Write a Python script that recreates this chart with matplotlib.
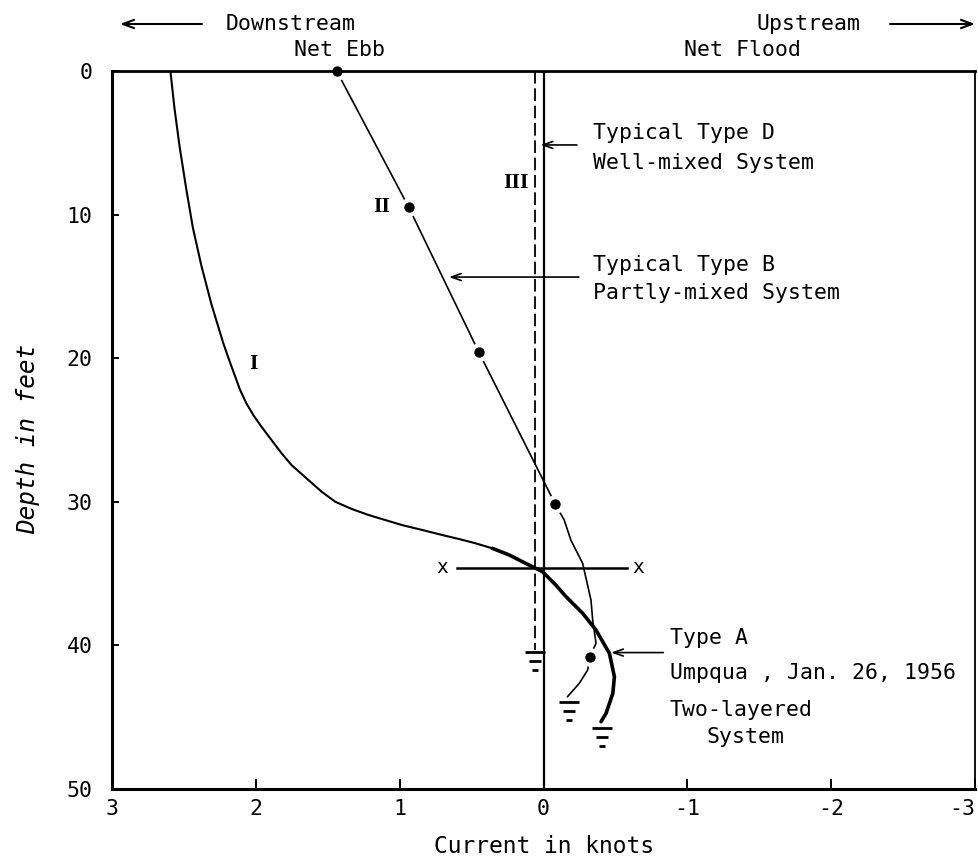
import matplotlib
matplotlib.use("Agg")
import matplotlib.pyplot as plt
from matplotlib.path import Path

plt.rcParams['font.family'] = ['DejaVu Sans Mono', 'DejaVu Sans']
plt.rcParams['axes.unicode_minus'] = False

# ---------------- data ----------------
# Curve I : Type A, two-layered system (current in knots, depth in feet)
curve1_upper_val = [2.594, 2.566, 2.531, 2.484, 2.438, 2.38, 2.31, 2.228, 2.19,
                    2.15, 2.11, 2.066, 2.015, 1.961, 1.891, 1.821, 1.752, 1.635,
                    1.542, 1.449, 1.333, 1.216, 1.10, 0.984, 0.844, 0.705, 0.588,
                    0.472, 0.356]
curve1_upper_depth = [0.0, 2.56, 5.2, 8.2, 10.9, 13.5, 16.2, 18.9, 20.0,
                      21.1, 22.2, 23.14, 24.0, 24.77, 25.7, 26.62, 27.44, 28.48,
                      29.3, 29.99, 30.5, 30.92, 31.27, 31.62, 31.96, 32.31, 32.59,
                      32.89, 33.24]
curve1_lower_val = [0.356, 0.239, 0.147, 0.077, 0.007, -0.086, -0.156, -0.272,
                    -0.365, -0.458, -0.493, -0.482, -0.435, -0.40]
curve1_lower_depth = [33.24, 33.7, 34.17, 34.52, 34.87, 35.8, 36.6, 37.76,
                      38.93, 40.55, 42.18, 43.34, 44.73, 45.31]

# Curve II : Typical Type B, partly-mixed system
curve2_val = [1.438, 0.937, 0.449, -0.082, -0.144, -0.19, -0.272, -0.33,
              -0.342, -0.365, -0.323, -0.307, -0.249, -0.167]
curve2_depth = [0.0, 9.49, 19.59, 30.17, 31.27, 32.66, 34.28, 36.84,
                38.23, 39.85, 40.79, 41.71, 42.64, 43.57]
curve2_obs_val = [1.438, 0.937, 0.449, -0.082, -0.323]
curve2_obs_depth = [0.0, 9.49, 19.59, 30.17, 40.79]

# Curve III : Typical Type D, well-mixed system (dashed)
curve3_val = [0.06, 0.06]
curve3_depth = [0.0, 40.3]

# zero-current reference line
zero_val = [0.0, 0.0]
zero_depth = [0.0, 50.0]

# X-X line
xx_val = [0.60, -0.58]
xx_depth = [34.6, 34.6]

# bottom (water-bottom) symbols at the end of each profile
bottom_val = [0.06, -0.18, -0.405]
bottom_depth = [41.1, 44.6, 46.4]

x_ticks = [3, 2, 1, 0, -1, -2, -3]
x_ticklabels = ['3', '2', '1', '0', '-1', '-2', '-3']
y_ticks = [0, 10, 20, 30, 40, 50]
y_ticklabels = ['0', '10', '20', '30', '40', '50']

# ---------------- figure ----------------
W, H = 979, 858
fig = plt.figure(figsize=(W / 100, H / 100), dpi=100)
ax = fig.add_axes([112 / W, 1 - 789 / H, (975 - 112) / W, (789 - 71) / H])

ax.set_xlim(3, -3)
ax.set_ylim(50, 0)

FS = 15.5

# curves
ax.plot(curve1_upper_val, curve1_upper_depth, color='black', lw=1.5,
        solid_capstyle='round', solid_joinstyle='round', zorder=3)
ax.plot(curve1_lower_val, curve1_lower_depth, color='black', lw=2.6,
        solid_capstyle='round', solid_joinstyle='round', zorder=3)
ax.plot(curve2_val, curve2_depth, color='black', lw=1.2,
        solid_joinstyle='round', zorder=3)
ax.plot(curve2_obs_val, curve2_obs_depth, linestyle='none', marker='o',
        markersize=10.5, markerfacecolor='black', markeredgecolor='white',
        markeredgewidth=3, zorder=4, clip_on=False)
ax.plot(curve3_val, curve3_depth, color='black', lw=1.3, dashes=(7, 2.6), zorder=3)
ax.plot(zero_val, zero_depth, color='black', lw=1.6, zorder=3)
ax.plot(xx_val, xx_depth, color='black', lw=1.8, zorder=3)

# bottom symbols
bverts = [(-1.0, 0.9), (1.0, 0.9), (-0.6, 0.0), (0.6, 0.0), (-0.35, -0.9), (0.35, -0.9)]
bcodes = [Path.MOVETO, Path.LINETO] * 3
bottom_marker = Path(bverts, bcodes)
ax.plot(bottom_val, bottom_depth, linestyle='none', marker=bottom_marker,
        markersize=14, markerfacecolor='none', markeredgecolor='black',
        markeredgewidth=2.0, zorder=3)

# curve labels (roman numerals)
roman = dict(family='DejaVu Serif', fontweight='bold', fontsize=13,
             ha='center', va='center')
ax.text(2.017, 20.4, 'I', **roman)
ax.text(1.124, 9.47, 'II', **roman)
ax.text(0.195, 7.8, 'III', **roman)

# x marks
ax.text(0.705, 34.6, 'x', fontsize=14, ha='center', va='center')
ax.text(-0.656, 34.6, 'x', fontsize=14, ha='center', va='center')

# annotation arrows
arr = dict(arrowstyle='->,head_length=0.7,head_width=0.25', color='black', lw=1.2,
           shrinkA=0, shrinkB=0)
ax.annotate('', xy=(0.02, 5.15), xytext=(-0.232, 5.15), arrowprops=arr)
ax.annotate('', xy=(0.657, 14.35), xytext=(-0.246, 14.35), arrowprops=arr)
ax.annotate('', xy=(-0.47, 40.5), xytext=(-0.833, 40.5), arrowprops=arr)

# annotation texts
t = dict(fontsize=FS, ha='left', va='center')
ax.text(-0.342, 4.32, 'Typical Type D', **t)
ax.text(-0.342, 6.41, 'Well-mixed System', **t)
ax.text(-0.342, 13.5, 'Typical Type B', **t)
ax.text(-0.342, 15.46, 'Partly-mixed System', **t)
ax.text(-0.879, 39.5, 'Type A', **t)
ax.text(-0.879, 41.9, 'Umpqua , Jan. 26, 1956', **t)
ax.text(-0.879, 44.5, 'Two-layered', **t)
ax.text(-1.13, 46.4, 'System', **t)

# top direction labels
def fx(px):
    return px / W

def fy(py):
    return 1 - py / H

fig.text(fx(291), fy(24), 'Downstream', fontsize=FS, ha='center', va='center')
fig.text(fx(340), fy(50), 'Net Ebb', fontsize=FS, ha='center', va='center')
fig.text(fx(809), fy(24), 'Upstream', fontsize=FS, ha='center', va='center')
fig.text(fx(743), fy(50), 'Net Flood', fontsize=FS, ha='center', va='center')
farr = dict(arrowstyle='->,head_length=0.8,head_width=0.3', color='black', lw=1.5,
            shrinkA=0, shrinkB=0)
ax.annotate('', xy=(fx(120), fy(24)), xytext=(fx(202), fy(24)),
            xycoords='figure fraction', textcoords='figure fraction',
            arrowprops=farr, annotation_clip=False)
ax.annotate('', xy=(fx(975), fy(24)), xytext=(fx(890), fy(24)),
            xycoords='figure fraction', textcoords='figure fraction',
            arrowprops=farr, annotation_clip=False)

# axes styling
ax.set_xticks(x_ticks)
ax.set_xticklabels(x_ticklabels)
ax.set_yticks(y_ticks)
ax.set_yticklabels(y_ticklabels)
ax.tick_params(axis='x', direction='in', length=7, width=1.4, labelsize=FS, pad=7)
ax.tick_params(axis='y', direction='in', length=5, width=1.4, labelsize=FS, pad=14)
ax.get_xticklabels()[-1].set_horizontalalignment('right')
for side, lw in [('left', 2.2), ('bottom', 2.2), ('top', 2.0), ('right', 1.3)]:
    ax.spines[side].set_linewidth(lw)
    ax.spines[side].set_zorder(5)

ax.set_xlabel('Current in knots', fontsize=16.5, labelpad=12)
fig.text(fx(28), fy(439), 'Depth in feet', fontsize=17.5, style='italic',
         rotation=90, ha='center', va='center')

fig.savefig('out.png', dpi=100)
